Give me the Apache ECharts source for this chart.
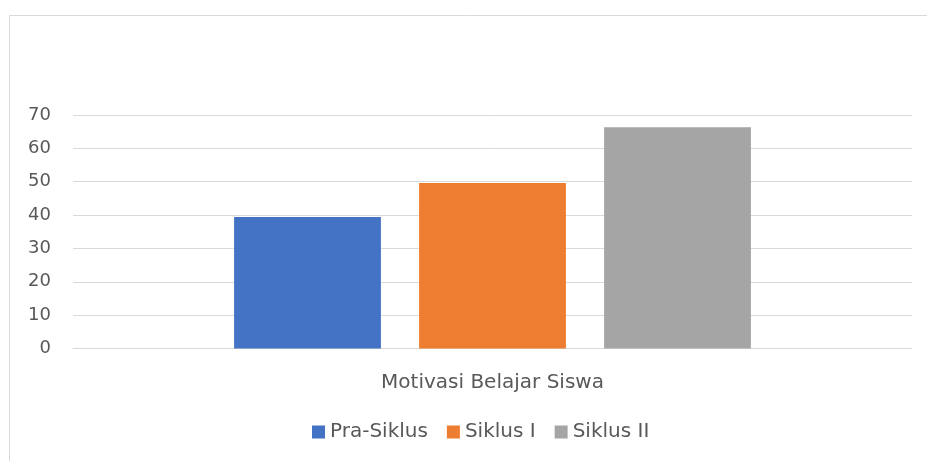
<!DOCTYPE html>
<html>
<head>
<meta charset="utf-8">
<script src="https://cdn.jsdelivr.net/npm/echarts@6/dist/echarts.min.js"></script>
<style>html,body{margin:0;padding:0;background:#fff}#c{width:927px;height:461px}</style>
</head>
<body>
<div id="c"></div>
<script>
const categories = ['Motivasi Belajar Siswa'];
const seriesNames = ['Pra-Siklus', 'Siklus I', 'Siklus II'];
const praSiklus = [39.4];
const siklusI = [49.6];
const siklusII = [66.3];
const colors = ['#4472C4', '#ED7D31', '#A5A5A5'];

const font = 'DejaVu Sans, sans-serif';
const chart = echarts.init(document.getElementById('c'), null, {renderer: 'canvas'});
const dataSets = [praSiklus, siklusI, siklusII];
chart.setOption({
  animation: false,
  backgroundColor: '#fff',
  graphic: [{
    type: 'polyline',
    shape: {points: [[9.5, 470], [9.5, 15.5], [935, 15.5]]},
    style: {stroke: '#d9d9d9', lineWidth: 1, fill: null},
    silent: true
  }],
  grid: {left: 73, right: 15, top: 115, bottom: 112.5, containLabel: false},
  legend: {
    bottom: 14,
    left: 307,
    itemWidth: 13,
    itemHeight: 13,
    itemGap: 19,
    icon: 'rect',
    textStyle: {color: '#595959', fontSize: 20, fontFamily: font},
    data: seriesNames
  },
  xAxis: {
    type: 'category',
    data: categories,
    axisLine: {show: true, lineStyle: {color: '#d9d9d9'}},
    axisTick: {show: false},
    axisLabel: {color: '#595959', fontSize: 20, fontFamily: font, margin: 24}
  },
  yAxis: {
    type: 'value',
    min: 0, max: 70, interval: 10,
    axisLine: {show: false},
    axisTick: {show: false},
    splitLine: {lineStyle: {color: '#d9d9d9', width: 1}},
    axisLabel: {color: '#595959', fontSize: 18, fontFamily: font, margin: 22}
  },
  series: seriesNames.map((n, i) => ({
    name: n,
    type: 'bar',
    data: dataSets[i],
    itemStyle: {color: colors[i]},
    barGap: '26%',
    barCategoryGap: '38.4%'
  }))
});
</script>
</body>
</html>
